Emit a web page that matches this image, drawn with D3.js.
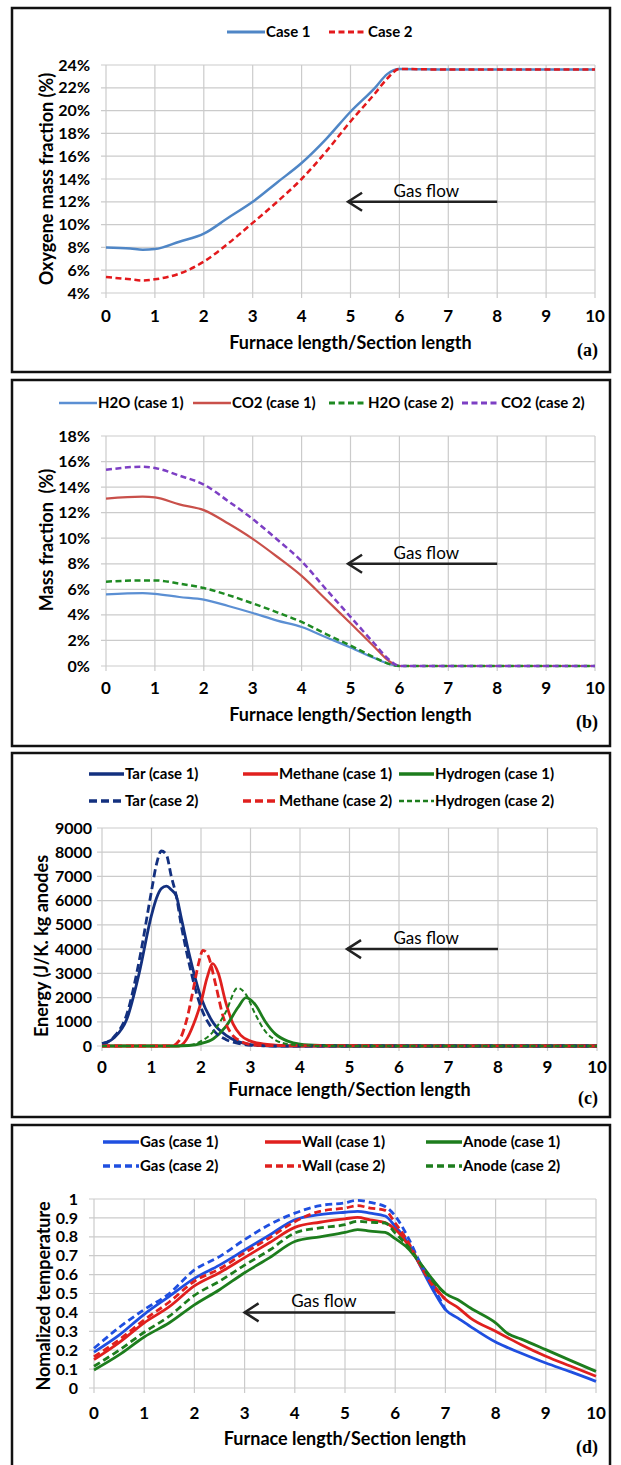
<!DOCTYPE html>
<html>
<head>
<meta charset="utf-8">
<title>Furnace profiles</title>
<script src="https://cdn.jsdelivr.net/npm/d3@7"></script>
<style>
body { margin: 0; background: #fff; }
text { font-family: Lato, "Open Sans", sans-serif; fill: #000; }
</style>
</head>
<body>
<script>
// ---- (a) oxygen mass fraction ----
var xA = [0, 0.5, 0.75, 1, 1.5, 2, 2.5, 3, 3.5, 4, 4.5, 5, 5.5, 5.75, 6, 7, 8, 9, 10];
var o2Case1 = [8.0, 7.9, 7.8, 7.85, 8.5, 9.2, 10.6, 12.0, 13.7, 15.4, 17.5, 19.9, 22.0, 23.2, 23.65, 23.6, 23.6, 23.6, 23.6];
var o2Case2 = [5.4, 5.2, 5.1, 5.2, 5.7, 6.75, 8.35, 10.15, 12.0, 14.0, 16.4, 19.05, 21.5, 22.8, 23.65, 23.6, 23.6, 23.6, 23.6];

// ---- (b) H2O / CO2 mass fraction ----
var xB = [0, 0.75, 1, 1.5, 2, 2.5, 3, 3.5, 4, 4.5, 5, 5.5, 5.8, 6, 7, 8, 9, 10];
var h2oCase1 = [5.6, 5.7, 5.65, 5.4, 5.2, 4.7, 4.15, 3.55, 3.05, 2.25, 1.45, 0.6, 0.15, 0, 0, 0, 0, 0];
var co2Case1 = [13.1, 13.25, 13.2, 12.65, 12.2, 11.15, 9.95, 8.55, 7.05, 5.2, 3.35, 1.45, 0.35, 0, 0, 0, 0, 0];
var h2oCase2 = [6.6, 6.7, 6.7, 6.45, 6.1, 5.55, 4.9, 4.2, 3.45, 2.5, 1.6, 0.65, 0.15, 0, 0, 0, 0, 0];
var co2Case2 = [15.35, 15.6, 15.5, 14.9, 14.2, 12.9, 11.5, 9.9, 8.2, 6.0, 3.85, 1.7, 0.45, 0, 0, 0, 0, 0];

// ---- (c) energy of volatiles ----
var xTar = [0, 0.1, 0.25, 0.5, 0.75, 1, 1.1, 1.2, 1.3, 1.4, 1.5, 1.6, 1.75, 2, 2.25, 2.5, 2.75, 3, 3.25, 3.5, 4, 10];
var tarCase1 = [100, 150, 350, 1100, 3000, 5400, 6100, 6500, 6600, 6450, 6200, 5300, 3900, 2000, 950, 450, 180, 60, 20, 0, 0, 0];
var tarCase2 = [100, 150, 400, 1300, 3500, 6400, 7500, 8050, 7900, 7000, 6200, 5000, 3500, 1600, 660, 270, 110, 30, 10, 0, 0, 0];
var xMeth1 = [0, 1.55, 1.7, 1.85, 2.0, 2.12, 2.24, 2.35, 2.5, 2.65, 2.8, 3.0, 3.25, 3.5, 4.0, 10];
var methaneCase1 = [0, 0, 250, 900, 1800, 2800, 3400, 3000, 1800, 900, 450, 200, 90, 40, 0, 0];
var xMeth2 = [0, 1.4, 1.55, 1.7, 1.85, 1.95, 2.04, 2.15, 2.3, 2.45, 2.6, 2.8, 3.0, 3.25, 10];
var methaneCase2 = [0, 0, 200, 1000, 2400, 3400, 3950, 3700, 2500, 1200, 550, 200, 60, 20, 0];
var xHyd1 = [0, 1.5, 1.75, 2.0, 2.25, 2.5, 2.75, 2.91, 3.1, 3.3, 3.5, 3.75, 4.0, 4.5, 5, 10];
var hydrogenCase1 = [0, 0, 20, 100, 300, 800, 1600, 2000, 1700, 1000, 500, 200, 80, 20, 0, 0];
var xHyd2 = [0, 1.5, 1.75, 2.0, 2.25, 2.5, 2.74, 2.9, 3.1, 3.3, 3.5, 3.75, 4.0, 4.5, 10];
var hydrogenCase2 = [0, 0, 30, 200, 600, 1400, 2400, 2150, 1300, 600, 250, 80, 30, 0, 0];

// ---- (d) normalized temperature ----
var xD = [0, 0.5, 1, 1.5, 2, 2.5, 3, 3.5, 4, 4.5, 5, 5.25, 5.5, 5.8, 6, 6.25, 6.5, 6.75, 7, 7.25, 7.5, 8, 8.25, 8.5, 9, 9.5, 10];
var gasCase1 = [0.19, 0.28, 0.39, 0.485, 0.58, 0.65, 0.73, 0.81, 0.89, 0.917, 0.93, 0.935, 0.925, 0.91, 0.855, 0.77, 0.645, 0.52, 0.415, 0.37, 0.325, 0.243, 0.213, 0.185, 0.132, 0.085, 0.035];
var wallCase1 = [0.15, 0.24, 0.345, 0.43, 0.54, 0.61, 0.69, 0.77, 0.85, 0.877, 0.895, 0.903, 0.89, 0.875, 0.84, 0.76, 0.65, 0.55, 0.47, 0.425, 0.37, 0.30, 0.265, 0.23, 0.168, 0.115, 0.062];
var anodeCase1 = [0.095, 0.175, 0.27, 0.345, 0.44, 0.52, 0.61, 0.69, 0.775, 0.80, 0.823, 0.838, 0.83, 0.823, 0.79, 0.74, 0.66, 0.573, 0.50, 0.467, 0.423, 0.345, 0.287, 0.26, 0.203, 0.145, 0.088];
var xD2 = [0, 0.5, 1, 1.5, 2, 2.5, 3, 3.5, 4, 4.5, 5, 5.25, 5.5, 5.8, 6, 6.25, 6.5, 6.75, 7];
var gasCase2 = [0.21, 0.32, 0.415, 0.50, 0.625, 0.695, 0.785, 0.865, 0.925, 0.965, 0.98, 0.993, 0.982, 0.96, 0.91, 0.80, 0.66, 0.54, 0.415];
var wallCase2 = [0.165, 0.255, 0.36, 0.455, 0.565, 0.63, 0.715, 0.795, 0.88, 0.935, 0.952, 0.965, 0.952, 0.94, 0.873, 0.776, 0.65, 0.54, 0.47];
var anodeCase2 = [0.115, 0.2, 0.295, 0.38, 0.49, 0.565, 0.65, 0.73, 0.82, 0.847, 0.864, 0.882, 0.877, 0.873, 0.82, 0.75, 0.66, 0.565, 0.50];

var xTicks = [0, 1, 2, 3, 4, 5, 6, 7, 8, 9, 10];

var width = 621, height = 1465;
var svg = d3.select("body").append("svg")
    .attr("width", width)
    .attr("height", height);

function drawPanel(p) {
    var g = svg.append("g");
    var top = p.plot[2], bottom = p.plot[3];

    var x = d3.scaleLinear().domain([0, 10]).range([p.plot[0], p.plot[1]]);
    var y = d3.scaleLinear().domain(p.yDomain).range([bottom, top]);

    // grid + ticks
    g.selectAll("line.hg").data(p.yTicks).enter().append("line")
        .attr("x1", p.plot[0] - 5).attr("x2", p.plot[1])
        .attr("y1", function(d) { return y(d); })
        .attr("y2", function(d) { return y(d); })
        .attr("stroke", "#cbcbcb").attr("stroke-width", 1.2);
    g.selectAll("line.vg").data(xTicks).enter().append("line")
        .attr("x1", function(d) { return x(d); })
        .attr("x2", function(d) { return x(d); })
        .attr("y1", top).attr("y2", bottom + 5)
        .attr("stroke", "#cbcbcb").attr("stroke-width", 1.2);

    g.selectAll("text.yl").data(p.yTicks).enter().append("text")
        .attr("x", p.plot[0] - p.yLabelGap)
        .attr("y", function(d) { return y(d); })
        .attr("dy", "0.35em")
        .attr("text-anchor", "end")
        .attr("font-size", 16).attr("font-weight", "bold")
        .text(p.yFmt);
    g.selectAll("text.xl").data(xTicks).enter().append("text")
        .attr("x", function(d) { return x(d); })
        .attr("y", p.xLabelY)
        .attr("dy", "0.35em")
        .attr("text-anchor", "middle")
        .attr("font-size", 17).attr("font-weight", "bold")
        .text(function(d) { return d; });

    // titles
    g.append("text")
        .attr("x", (p.plot[0] + p.plot[1]) / 2)
        .attr("y", p.xTitleY).attr("dy", "0.35em")
        .attr("text-anchor", "middle")
        .attr("font-size", 18).attr("font-weight", "bold")
        .text("Furnace length/Section length");
    g.append("text")
        .attr("transform", "translate(" + p.yTitle[1] + "," + p.yTitle[2] + ") rotate(-90)")
        .attr("dy", "0.35em")
        .attr("text-anchor", "middle")
        .attr("font-size", 18).attr("font-weight", "bold")
        .style("white-space", "pre")
        .text(p.yTitle[0]);

    // gas flow arrow
    var ay = y(p.arrow.at), ax0 = x(p.arrow.from), ax1 = x(p.arrow.to);
    g.append("line").attr("x1", ax0).attr("x2", ax1).attr("y1", ay).attr("y2", ay)
        .attr("stroke", "#222").attr("stroke-width", 2.5);
    g.append("path")
        .attr("d", "M" + (ax1 + 14) + "," + (ay - 9) + "L" + ax1 + "," + ay + "L" + (ax1 + 14) + "," + (ay + 9))
        .attr("fill", "none").attr("stroke", "#222").attr("stroke-width", 2.5);
    g.append("text")
        .attr("x", x(p.arrow.text)).attr("y", ay - 11).attr("dy", "0.35em")
        .attr("text-anchor", "middle").attr("font-size", 17)
        .text("Gas flow");

    // series
    var line = d3.line()
        .x(function(d) { return x(d[0]); })
        .y(function(d) { return y(d[1]); })
        .curve(d3.curveMonotoneX);
    p.series.forEach(function(s) {
        g.append("path")
            .attr("d", line(d3.zip(s.x, s.y)))
            .attr("fill", "none")
            .attr("stroke", s.color)
            .attr("stroke-width", s.w)
            .attr("stroke-dasharray", s.dash || null)
            .attr("stroke-linejoin", "round");
    });

    // legend
    p.series.forEach(function(s) {
        var lx = s.leg[0], ly = s.leg[1];
        g.append("line").attr("x1", lx).attr("x2", lx + p.legLen).attr("y1", ly).attr("y2", ly)
            .attr("stroke", s.color).attr("stroke-width", s.w + 0.5)
            .attr("stroke-dasharray", s.dash || null);
        g.append("text").attr("x", lx + p.legLen + 1).attr("y", ly).attr("dy", "0.35em")
            .attr("font-size", 15).attr("font-weight", "bold")
            .text(s.name);
    });

    // panel letter + frame
    g.append("text")
        .attr("x", p.letter[0]).attr("y", p.letter[1]).attr("dy", "0.35em")
        .attr("text-anchor", "end")
        .style("font-family", "'Liberation Serif', 'DejaVu Serif', serif")
        .attr("font-size", 18).attr("font-weight", "bold")
        .text(p.letter[2]);
    g.append("rect")
        .attr("x", p.box[0]).attr("y", p.box[1])
        .attr("width", p.box[2]).attr("height", p.box[3])
        .attr("fill", "none").attr("stroke", "#111").attr("stroke-width", 2.5);
}

var pct = function(d) { return d + "%"; };

drawPanel({
    box: [12, 8, 598, 364], plot: [106, 595, 65, 293],
    yDomain: [4, 24], yTicks: d3.range(4, 25, 2), yFmt: pct, yLabelGap: 16,
    xLabelY: 316, xTitleY: 343,
    yTitle: ["Oxygene mass fraction (%)", 47, 179],
    arrow: {from: 8, to: 4.95, at: 12, text: 6.55},
    letter: [598, 350, "(a)"], legLen: 38,
    series: [
        {name: "Case 1", x: xA, y: o2Case1, color: "#4f86c6", w: 2.5, leg: [227, 32]},
        {name: "Case 2", x: xA, y: o2Case2, color: "#e3191c", w: 2.5, dash: "6,3.5", leg: [329, 32]}
    ]
});

drawPanel({
    box: [12, 380, 598, 366], plot: [106, 595, 436, 666],
    yDomain: [0, 18], yTicks: d3.range(0, 19, 2), yFmt: pct, yLabelGap: 16,
    xLabelY: 688, xTitleY: 715,
    yTitle: ["Mass fraction  (%)", 47, 540],
    arrow: {from: 8, to: 4.95, at: 8, text: 6.55},
    letter: [598, 722, "(b)"], legLen: 38,
    series: [
        {name: "H2O (case 1)", x: xB, y: h2oCase1, color: "#5b8fd3", w: 2.2, leg: [59, 403]},
        {name: "CO2 (case 1)", x: xB, y: co2Case1, color: "#c9504a", w: 2.2, leg: [193, 403]},
        {name: "H2O (case 2)", x: xB, y: h2oCase2, color: "#1e8a22", w: 2.5, dash: "6,3.5", leg: [329, 403]},
        {name: "CO2 (case 2)", x: xB, y: co2Case2, color: "#7d3fc4", w: 2.5, dash: "6,3.5", leg: [462, 403]}
    ]
});

drawPanel({
    box: [12, 753, 598, 364], plot: [102, 597, 828, 1046],
    yDomain: [0, 9000], yTicks: d3.range(0, 9001, 1000), yFmt: function(d) { return d; }, yLabelGap: 10,
    xLabelY: 1067, xTitleY: 1090,
    yTitle: ["Energy (J/K. kg anodes", 42, 946],
    arrow: {from: 8, to: 4.95, at: 4000, text: 6.55},
    letter: [598, 1098, "(c)"], legLen: 35,
    series: [
        {name: "Tar (case 1)", x: xTar, y: tarCase1, color: "#13307f", w: 2.8, leg: [89, 774]},
        {name: "Methane (case 1)", x: xMeth1, y: methaneCase1, color: "#e0201e", w: 2.8, leg: [243, 774]},
        {name: "Hydrogen (case 1)", x: xHyd1, y: hydrogenCase1, color: "#1d7d1d", w: 2.8, leg: [399, 774]},
        {name: "Tar (case 2)", x: xTar, y: tarCase2, color: "#13307f", w: 2.8, dash: "8,4", leg: [89, 801]},
        {name: "Methane (case 2)", x: xMeth2, y: methaneCase2, color: "#e0201e", w: 2.8, dash: "8,4", leg: [243, 801]},
        {name: "Hydrogen (case 2)", x: xHyd2, y: hydrogenCase2, color: "#1d7d1d", w: 2, dash: "5,3", leg: [399, 801]}
    ]
});

drawPanel({
    box: [12, 1125, 598, 400], plot: [94, 596, 1199, 1388],
    yDomain: [0, 1], yTicks: d3.range(0, 11).map(function(i) { return i / 10; }),
    yFmt: function(d) { return d3.format("~g")(d); }, yLabelGap: 16,
    xLabelY: 1413, xTitleY: 1439,
    yTitle: ["Nomalized temperature", 44, 1296],
    arrow: {from: 6, to: 3, at: 0.4, text: 4.58},
    letter: [598, 1447, "(d)"], legLen: 36,
    series: [
        {name: "Gas (case 1)", x: xD, y: gasCase1, color: "#1f4fe0", w: 2.8, leg: [103, 1142]},
        {name: "Wall (case 1)", x: xD, y: wallCase1, color: "#e0201e", w: 2.8, leg: [265, 1142]},
        {name: "Anode (case 1)", x: xD, y: anodeCase1, color: "#1d7d1d", w: 2.8, leg: [426, 1142]},
        {name: "Gas (case 2)", x: xD2, y: gasCase2, color: "#1f4fe0", w: 2.8, dash: "7,4", leg: [103, 1166]},
        {name: "Wall (case 2)", x: xD2, y: wallCase2, color: "#e0201e", w: 2.8, dash: "7,4", leg: [265, 1166]},
        {name: "Anode (case 2)", x: xD2, y: anodeCase2, color: "#1d7d1d", w: 2.8, dash: "7,4", leg: [426, 1166]}
    ]
});
</script>
</body>
</html>
